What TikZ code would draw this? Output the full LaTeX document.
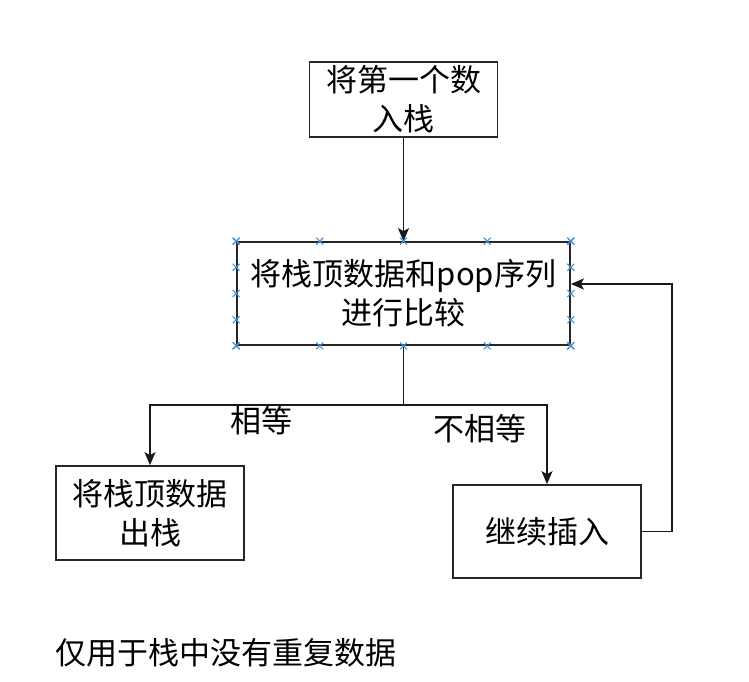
\documentclass[tikz,border=0pt]{standalone}
\usepackage{fontspec}
\newfontfamily\cjk{Noto Sans CJK SC}
\usetikzlibrary{arrows.meta,calc}
\begin{document}
\begin{tikzpicture}[x=1pt,y=-1pt,
  box/.style={draw=black!85,line width=1.7pt,rectangle,inner sep=0pt,align=center,
    font=\cjk\fontsize{31}{39}\selectfont},
  lbl/.style={inner sep=0pt,font=\cjk\fontsize{31}{39}\selectfont},
  conn/.style={draw=black!90,line width=1.6pt,-{Stealth[length=13pt,width=11pt,inset=3pt]}},
  mk/.style={draw=cyan!60!blue!75,line width=1.1pt}]
\useasboundingbox (0,0) rectangle (749,681);
\node[box,minimum width=188pt,minimum height=75pt] (top) at (403.5,99.5) {将第一个数\\入栈};
\node[box,minimum width=333pt,minimum height=103pt] (mid) at (403.5,293.5) {将栈顶数据和pop序列\\进行比较};
\node[box,minimum width=188pt,minimum height=94pt] (left) at (150,513) {将栈顶数据\\出栈};
\node[box,minimum width=188pt,minimum height=93pt] (right) at (547,531.5) {继续插入};
\node[lbl] (eq) at (261,421) {相等};
\node[lbl] (neq) at (480,428.5) {不相等};
\node[lbl,anchor=west] (note) at (55,653) {仅用于栈中没有重复数据};
\coordinate (split) at (mid.south |- 0,405);
\coordinate (loopr) at (672,531.5);
\coordinate (looptop) at (672,284);
\coordinate (inmid) at (mid.east |- looptop);
\draw[conn] (top) -- (mid);
\draw[conn] (mid.south) -- (split) -| (left.north);
\draw[conn] (split) -| (right.north);
\draw[conn] (right.east) -- (loopr) -- (looptop) -- (inmid);
% selection markers
\foreach \t in {0,0.25,0.5,0.75,1}{
  \coordinate (ma) at ($(mid.north west)!\t!(mid.north east)$);
  \coordinate (mb) at ($(mid.south west)!\t!(mid.south east)$);
  \coordinate (mc) at ($(mid.north west)!\t!(mid.south west)$);
  \coordinate (md) at ($(mid.north east)!\t!(mid.south east)$);
  \foreach \m in {ma,mb,mc,md}{
    \draw[mk] ($(\m)+(-3.5,-3.5)$) -- ($(\m)+(3.5,3.5)$) ($(\m)+(-3.5,3.5)$) -- ($(\m)+(3.5,-3.5)$);
  }
}
\end{tikzpicture}
\end{document}
